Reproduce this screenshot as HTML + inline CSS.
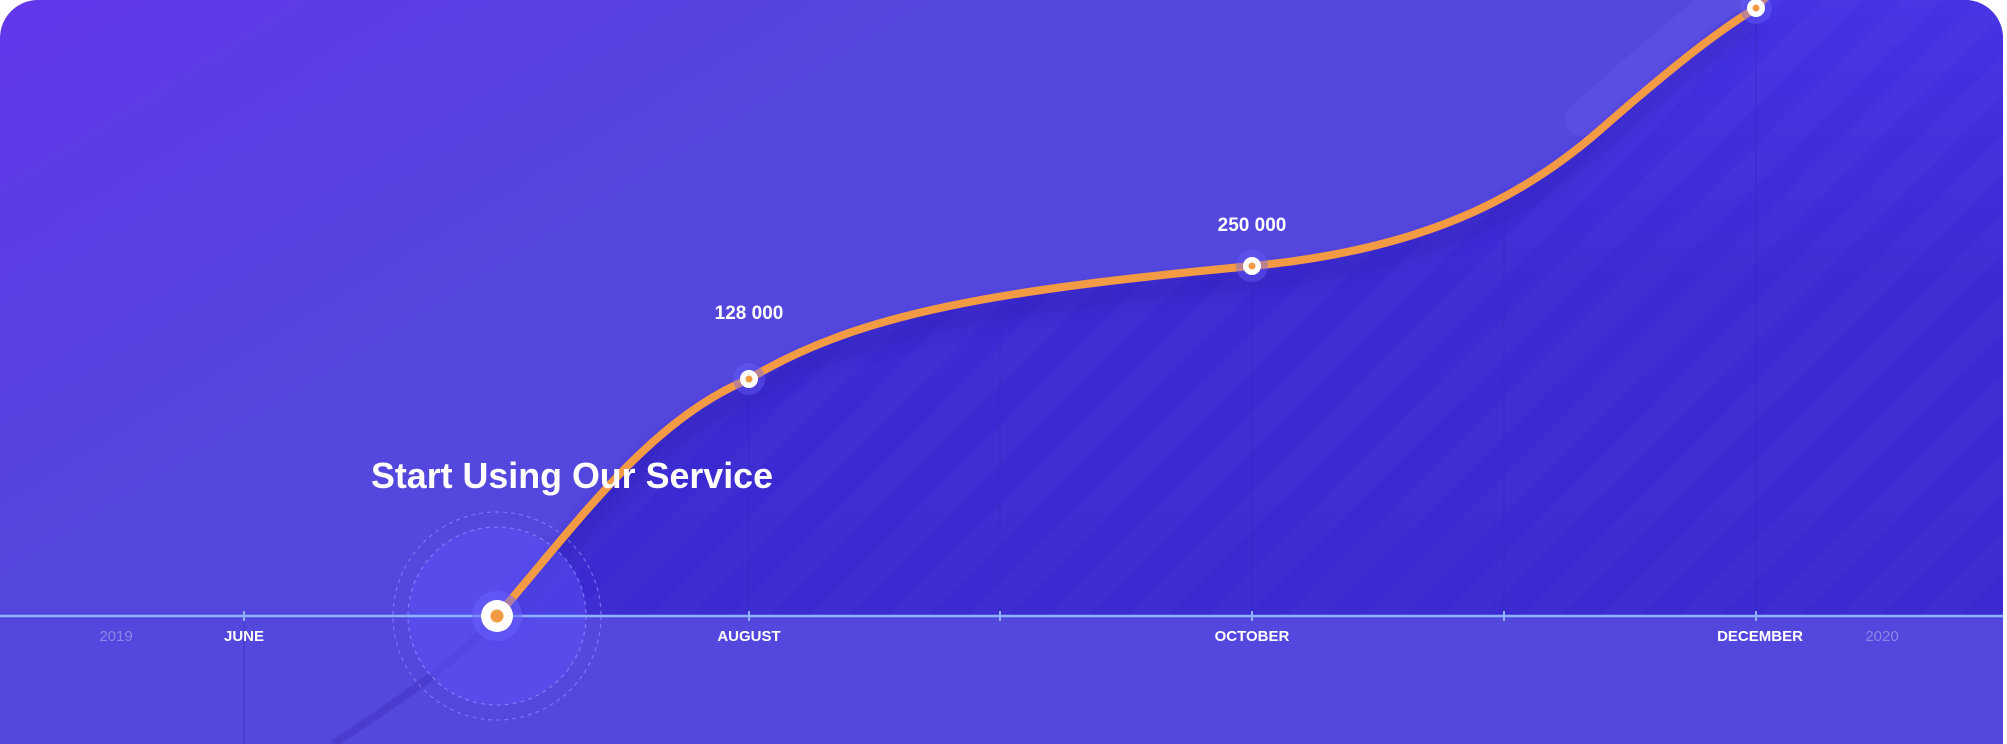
<!DOCTYPE html>
<html><head><style>
html,body{margin:0;padding:0;background:#fff;}
svg{display:block}
text{font-family:"Liberation Sans",sans-serif;fill:#fff;font-weight:bold}
</style></head><body>
<svg width="2007" height="744" viewBox="0 0 2007 744" xmlns="http://www.w3.org/2000/svg">
<defs>
<linearGradient id="bg" x1="0" y1="0" x2="1" y2="0.6">
<stop offset="0" stop-color="#6236ea"/>
<stop offset="0.35" stop-color="#5447dd"/>
<stop offset="1" stop-color="#5447de"/>
</linearGradient>
<linearGradient id="area" x1="0" y1="0" x2="0" y2="1">
<stop offset="0" stop-color="#4634e6"/>
<stop offset="0.5" stop-color="#3c2ad2"/>
<stop offset="1" stop-color="#3a2ad0"/>
</linearGradient>
<pattern id="str" width="56" height="56" patternUnits="userSpaceOnUse" patternTransform="rotate(45)">
<rect width="28" height="56" fill="#ffffff" opacity="0.018"/>
</pattern>
<clipPath id="card"><path d="M38,0 H1965 A38,38 0 0 1 2003,38 V744 H0 V38 A38,38 0 0 1 38,0 Z"/></clipPath>
<filter id="blur" x="-10%" y="-10%" width="120%" height="120%"><feGaussianBlur stdDeviation="8"/></filter>
</defs>
<g clip-path="url(#card)">
<rect width="2007" height="744" fill="url(#bg)"/>
<path d="M497,616 C580,520 650,420 749,379 C860,312 1000,290 1252,266 C1420,250 1520,200 1600,130 C1680,60 1720,30 1756,8 L1800,-40 L2007,-40 L2007,616 Z" fill="url(#area)"/>
<path d="M497,616 C580,520 650,420 749,379 C860,312 1000,290 1252,266 C1420,250 1520,200 1600,130 C1680,60 1720,30 1756,8 L1800,-40 L2007,-40 L2007,616 Z" fill="url(#str)"/>
<g stroke="#3326b8" stroke-width="1" opacity="0.6">
<line x1="749" y1="379" x2="749" y2="616"/><line x1="1000" y1="310" x2="1000" y2="616"/>
<line x1="1252" y1="266" x2="1252" y2="616"/><line x1="1504" y1="190" x2="1504" y2="616"/>
<line x1="1756" y1="8" x2="1756" y2="616"/><line x1="244" y1="616" x2="244" y2="744"/>
</g>
<path d="M1590,125 C1670,55 1710,20 1746,-4" stroke="#6a60f0" stroke-width="34" fill="none" opacity="0.3" stroke-linecap="round" transform="translate(-8,-6)"/>
<path d="M497,630 C580,534 650,434 749,393 C860,326 1000,304 1252,280 C1420,264 1520,214 1600,144 C1680,74 1720,44 1756,22" stroke="#2a1da8" stroke-width="14" fill="none" opacity="0.45" filter="url(#blur)"/>
<path d="M497,616 C460,660 400,700 333,744" stroke="#4538c8" stroke-width="8" fill="none" opacity="0.7"/>
<circle cx="497" cy="616" r="89" fill="#5a50f4" opacity="0.55"/>
<circle cx="497" cy="616" r="89" fill="none" stroke="#8a86ff" stroke-width="1.2" stroke-dasharray="4 4" opacity="0.8"/>
<circle cx="497" cy="616" r="104" fill="none" stroke="#8a86ff" stroke-width="1.2" stroke-dasharray="4 4" opacity="0.7"/>
<path d="M497,616 C580,520 650,420 749,379 C860,312 1000,290 1252,266 C1420,250 1520,200 1600,130 C1680,60 1720,30 1756,8 L1800,-40" stroke="#f39a45" stroke-width="8" fill="none" stroke-linecap="round"/>
<line x1="0" y1="616" x2="2007" y2="616" stroke="#8fb2ff" stroke-width="2.5"/>
<g stroke="#8fb2ff" stroke-width="2">
<line x1="244" y1="611" x2="244" y2="621"/><line x1="749" y1="611" x2="749" y2="621"/>
<line x1="1000" y1="611" x2="1000" y2="621"/><line x1="1252" y1="611" x2="1252" y2="621"/>
<line x1="1504" y1="611" x2="1504" y2="621"/><line x1="1756" y1="611" x2="1756" y2="621"/>
</g>
<circle cx="497" cy="616" r="25" fill="#6a62ff" opacity="0.5"/>
<circle cx="497" cy="616" r="16" fill="#fff"/>
<circle cx="497" cy="616" r="6.5" fill="#f39a45"/>
<g>
<circle cx="749" cy="379" r="16" fill="#6a62ff" opacity="0.4"/><circle cx="749" cy="379" r="9" fill="#fff"/><circle cx="749" cy="379" r="3.5" fill="#f39a45"/>
<circle cx="1252" cy="266" r="16" fill="#6a62ff" opacity="0.4"/><circle cx="1252" cy="266" r="9" fill="#fff"/><circle cx="1252" cy="266" r="3.5" fill="#f39a45"/>
<circle cx="1756" cy="8" r="16" fill="#6a62ff" opacity="0.4"/><circle cx="1756" cy="8" r="9" fill="#fff"/><circle cx="1756" cy="8" r="3.5" fill="#f39a45"/>
</g>
<text x="749" y="319" font-size="19" text-anchor="middle">128 000</text>
<text x="1252" y="231" font-size="19" text-anchor="middle">250 000</text>
<text x="371" y="488" font-size="36" textLength="402" lengthAdjust="spacingAndGlyphs">Start Using Our Service</text>
<g font-size="15" text-anchor="middle">
<text x="116" y="641" style="fill:#8a86e8;font-weight:normal">2019</text>
<text x="244" y="641">JUNE</text>
<text x="749" y="641">AUGUST</text>
<text x="1252" y="641">OCTOBER</text>
<text x="1760" y="641">DECEMBER</text>
<text x="1882" y="641" style="fill:#8a86e8;font-weight:normal">2020</text>
</g>
</g>
</svg>
</body></html>
